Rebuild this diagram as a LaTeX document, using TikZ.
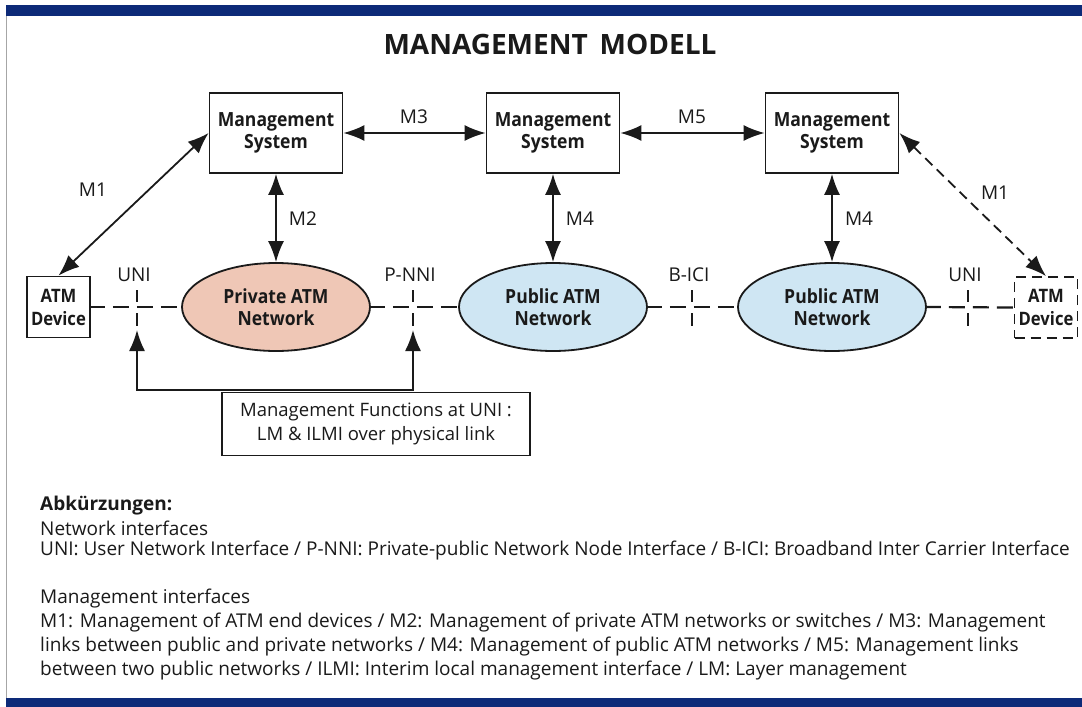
\documentclass[tikz,border=0pt]{standalone}
\usepackage{fontspec}
\setmainfont{Open Sans}
\newfontfamily\nb{Open Sans}[FakeStretch=0.9]
\usetikzlibrary{arrows.meta,shapes.geometric}
\definecolor{navy}{HTML}{0D2A78}
\definecolor{privfill}{HTML}{EFC7B6}
\definecolor{pubfill}{HTML}{CFE6F3}
\definecolor{ink}{HTML}{1A1A1A}
\newcommand{\fs}[2]{\fontsize{#1}{#2}\selectfont}
\begin{document}
\begin{tikzpicture}[x=1pt,y=-1pt,
  every node/.style={text=ink},
  msys/.style={draw=ink, line width=1.8pt, minimum width=133pt, minimum height=80pt, inner sep=0pt, align=center, font=\nb\bfseries\fs{19.5}{22.5}},
  netw/.style={ellipse, draw=ink, line width=1.8pt, minimum width=188pt, minimum height=88pt, inner sep=0pt, align=center, font=\nb\bfseries\fs{19.5}{22.5}},
  dev/.style={draw=ink, line width=1.8pt, minimum width=63pt, minimum height=61pt, inner sep=0pt, align=center, font=\nb\bfseries\fs{18.5}{23}},
  lab/.style={font=\fs{19}{22}},
  ln/.style={draw=ink, line width=1.8pt},
  arr/.style={ln, {Latex[length=21pt,width=16pt]}-{Latex[length=21pt,width=16pt]}},
  dlink/.style={ln, line width=2.2pt, dash pattern=on 16pt off 8pt},
  tick/.style={ln, line width=1.5pt},
  txt/.style={anchor=west, inner sep=0pt, font=\fs{19}{22}}
]
\useasboundingbox (0,0) rectangle (1082,707);
% frame
\fill[white] (0,0) rectangle (1082,707);
\fill[navy] (6,5) rectangle (1082,16);
\fill[navy] (6,698) rectangle (1082,707);
\draw[gray!70, line width=1.2pt] (6.6,16) -- (6.6,698);

% title
\node[font=\bfseries\fs{28}{28}] (title) at (550,44) {MANAGEMENT\, MODELL};

% management systems
\node[msys] (ms1) at (276,133) {Management\\System};
\node[msys] (ms2) at (553,133) {Management\\System};
\node[msys] (ms3) at (832,133) {Management\\System};

% networks
\node[netw, fill=privfill] (priv) at (276,307) {\raisebox{-3pt}{}Private ATM\\Network};
\node[netw, fill=pubfill] (pub1) at (553,307) {Public ATM\\Network};
\node[netw, fill=pubfill] (pub2) at (832,307) {Public ATM\\Network};

% devices
\node[dev] (dev1) at (58.5,307) {ATM\\Device};
\node[dev, dash pattern=on 10pt off 6pt] (dev2) at (1046,307.5) {ATM\\Device};

% dashed links
\draw[dlink, dash phase=2pt] (dev1.east) -- (priv.west);
\draw[dlink, dash phase=2pt] (priv.east) -- (pub1.west);
\draw[dlink, dash phase=2pt] (pub1.east) -- (pub2.west);
\draw[dlink, dash phase=2pt] (pub2.east) -- (dev2.west);

% interface ticks and labels
\foreach \n/\x/\t in {t1/137/UNI, t2/413/P-NNI, t3/692/B-ICI, t4/968/UNI}{
  \coordinate (\n a) at (\x,290);
  \coordinate (\n b) at (\x,302);
  \coordinate (\n c) at (\x,313);
  \coordinate (\n d) at (\x,326);
  \coordinate (\n low) at (\x,330);
  \draw[tick] (\n a) -- (\n b);
  \node[lab] (\n lab) at (\x-3,275) {\t};
}
\draw[tick] (t3c) -- (t3d);
\draw[tick] (t4c) -- (t4d);
\draw[tick] (t1c) -- (t1d);
\draw[tick] (t2c) -- (t2d);

% management arrows
\draw[arr] (ms1) -- (ms2);
\draw[arr] (ms2) -- (ms3);
\draw[arr] (ms1) -- (priv);
\draw[arr] (ms2) -- (pub1);
\draw[arr] (ms3) -- (pub2);
\draw[arr] (dev1.north) -- (ms1.west);
\draw[arr, dash pattern=on 10pt off 6pt] (ms3.east) -- (dev2.north);

\node[lab] (m3) at (414,117) {M3};
\node[lab] (m5) at (692,117) {M5};
\node[lab] (m2) at (303,219) {M2};
\node[lab] (m4a) at (580,219) {M4};
\node[lab] (m4b) at (859,219) {M4};
\node[lab] (m1a) at (93,190) {M1};
\node[lab] (m1b) at (995,193) {M1};

% management functions box
\coordinate (b1) at (137,390);
\coordinate (b2) at (413,390);
\draw[ln, {Latex[length=21pt,width=16pt]}-{Latex[length=21pt,width=16pt]}] (t1low) -- (b1) -- (b2) -- (t2low);
\node[draw=ink, line width=1.6pt, minimum width=308pt, minimum height=63pt, inner sep=0pt, align=center, font=\fs{18.5}{24}, fill=white] (mf) at (376,424) {Management Functions at UNI :\\LM \& ILMI over physical link};

% abbreviations
\node[txt, font=\bfseries\fs{19}{22}] (abk) at (40,506) {Abkürzungen:};
\node[txt] (l1) at (40,528) {Network interfaces};
\node[txt] (l2) at (40,551) {UNI: User Network Interface / P-NNI: Private-public Network Node Interface / B-ICI: Broadband Inter Carrier Interface};
\node[txt] (l3) at (40,599) {Management interfaces};
\node[txt] (l4) at (40,623) {M1: Management of ATM end devices / M2: Management of private ATM networks or switches / M3: Management};
\node[txt] (l5) at (40,647) {links between public and private networks / M4: Management of public ATM networks / M5: Management links};
\node[txt] (l6) at (40,671) {between two public networks / ILMI: Interim local management interface / LM: Layer management};
\end{tikzpicture}
\end{document}
